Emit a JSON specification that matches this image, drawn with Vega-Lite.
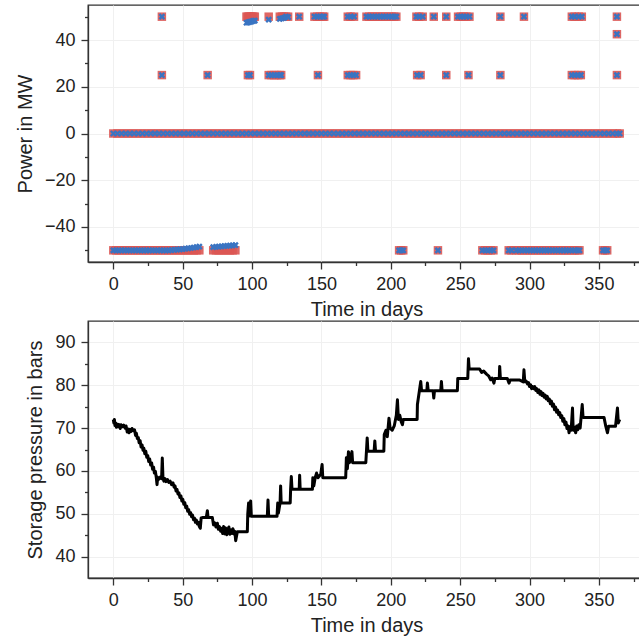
{
  "$schema": "https://vega.github.io/schema/vega-lite/v6.json",
  "padding": {"left": 14, "top": 4, "right": 0, "bottom": 0},
  "background": "white",
  "config": {
    "font": "Liberation Sans",
    "view": {"stroke": "#333333", "strokeWidth": 1.3},
    "axis": {
      "domainColor": "#333333", "domainWidth": 1.3,
      "tickColor": "#333333", "tickWidth": 1.3, "tickSize": 7,
      "labelFont": "Liberation Sans", "labelFontSize": 18, "labelColor": "#222222", "labelPadding": 6,
      "titleFont": "Liberation Sans", "titleFontSize": 20, "titleFontWeight": "normal", "titleColor": "#222222",
      "gridColor": "#f0f0f0", "gridWidth": 1, "labelFlush": false
    }
  },
  "datasets": {
    "power": [
      {"t":0,"a":0,"b":0},{"t":3,"a":0,"b":0},{"t":6,"a":0,"b":0},{"t":9,"a":0,"b":0},{"t":12,"a":0,"b":0},{"t":15,"a":0,"b":0},{"t":18,"a":0,"b":0},{"t":21,"a":0,"b":0},{"t":24,"a":0,"b":0},{"t":27,"a":0,"b":0},{"t":30,"a":0,"b":0},{"t":33,"a":0,"b":0},{"t":36,"a":0,"b":0},{"t":39,"a":0,"b":0},{"t":42,"a":0,"b":0},{"t":45,"a":0,"b":0},{"t":48,"a":0,"b":0},{"t":51,"a":0,"b":0},{"t":54,"a":0,"b":0},{"t":57,"a":0,"b":0},{"t":60,"a":0,"b":0},{"t":63,"a":0,"b":0},{"t":66,"a":0,"b":0},{"t":69,"a":0,"b":0},{"t":72,"a":0,"b":0},{"t":75,"a":0,"b":0},{"t":78,"a":0,"b":0},{"t":81,"a":0,"b":0},{"t":84,"a":0,"b":0},{"t":87,"a":0,"b":0},{"t":90,"a":0,"b":0},{"t":93,"a":0,"b":0},{"t":96,"a":0,"b":0},{"t":99,"a":0,"b":0},{"t":102,"a":0,"b":0},{"t":105,"a":0,"b":0},{"t":108,"a":0,"b":0},{"t":111,"a":0,"b":0},{"t":114,"a":0,"b":0},{"t":117,"a":0,"b":0},{"t":120,"a":0,"b":0},{"t":123,"a":0,"b":0},{"t":126,"a":0,"b":0},{"t":129,"a":0,"b":0},{"t":132,"a":0,"b":0},{"t":135,"a":0,"b":0},{"t":138,"a":0,"b":0},{"t":141,"a":0,"b":0},{"t":144,"a":0,"b":0},{"t":147,"a":0,"b":0},{"t":150,"a":0,"b":0},{"t":153,"a":0,"b":0},{"t":156,"a":0,"b":0},{"t":159,"a":0,"b":0},{"t":162,"a":0,"b":0},{"t":165,"a":0,"b":0},{"t":168,"a":0,"b":0},{"t":171,"a":0,"b":0},{"t":174,"a":0,"b":0},{"t":177,"a":0,"b":0},{"t":180,"a":0,"b":0},{"t":183,"a":0,"b":0},{"t":186,"a":0,"b":0},{"t":189,"a":0,"b":0},{"t":192,"a":0,"b":0},{"t":195,"a":0,"b":0},{"t":198,"a":0,"b":0},{"t":201,"a":0,"b":0},{"t":204,"a":0,"b":0},{"t":207,"a":0,"b":0},{"t":210,"a":0,"b":0},{"t":213,"a":0,"b":0},{"t":216,"a":0,"b":0},{"t":219,"a":0,"b":0},{"t":222,"a":0,"b":0},{"t":225,"a":0,"b":0},{"t":228,"a":0,"b":0},{"t":231,"a":0,"b":0},{"t":234,"a":0,"b":0},{"t":237,"a":0,"b":0},{"t":240,"a":0,"b":0},{"t":243,"a":0,"b":0},{"t":246,"a":0,"b":0},{"t":249,"a":0,"b":0},{"t":252,"a":0,"b":0},{"t":255,"a":0,"b":0},{"t":258,"a":0,"b":0},{"t":261,"a":0,"b":0},{"t":264,"a":0,"b":0},{"t":267,"a":0,"b":0},{"t":270,"a":0,"b":0},{"t":273,"a":0,"b":0},{"t":276,"a":0,"b":0},{"t":279,"a":0,"b":0},{"t":282,"a":0,"b":0},{"t":285,"a":0,"b":0},{"t":288,"a":0,"b":0},{"t":291,"a":0,"b":0},{"t":294,"a":0,"b":0},{"t":297,"a":0,"b":0},{"t":300,"a":0,"b":0},{"t":303,"a":0,"b":0},{"t":306,"a":0,"b":0},{"t":309,"a":0,"b":0},{"t":312,"a":0,"b":0},{"t":315,"a":0,"b":0},{"t":318,"a":0,"b":0},{"t":321,"a":0,"b":0},{"t":324,"a":0,"b":0},{"t":327,"a":0,"b":0},{"t":330,"a":0,"b":0},{"t":333,"a":0,"b":0},{"t":336,"a":0,"b":0},{"t":339,"a":0,"b":0},{"t":342,"a":0,"b":0},{"t":345,"a":0,"b":0},{"t":348,"a":0,"b":0},{"t":351,"a":0,"b":0},{"t":354,"a":0,"b":0},{"t":357,"a":0,"b":0},{"t":360,"a":0,"b":0},{"t":363,"a":0,"b":0},{"t":365,"a":0,"b":0},
      {"t":35,"a":50,"b":50},{"t":96,"a":50,"b":47.4},{"t":97,"a":50,"b":47.6},{"t":98,"a":50,"b":47.7},{"t":99,"a":50,"b":47.9},{"t":100,"a":50,"b":48},{"t":101,"a":50,"b":48.2},{"t":102,"a":50,"b":48.3},
      {"t":112,"a":50,"b":48.7},{"t":120,"a":50,"b":49.1},{"t":121.5,"a":50,"b":49.3},{"t":123,"a":50,"b":49.5},{"t":124.5,"a":50,"b":50},{"t":126,"a":50,"b":49.8},{"t":134,"a":50,"b":50},
      {"t":145,"a":50,"b":50},{"t":147,"a":50,"b":50},{"t":149,"a":50,"b":50},{"t":151,"a":50,"b":50},{"t":152,"a":50,"b":50},
      {"t":169,"a":50,"b":50},{"t":171,"a":50,"b":50},{"t":173.5,"a":50,"b":50},
      {"t":182.5,"a":50,"b":50},{"t":184.5,"a":50,"b":50},{"t":186.5,"a":50,"b":50},{"t":188.5,"a":50,"b":50},{"t":190.5,"a":50,"b":50},{"t":192.5,"a":50,"b":50},{"t":194.5,"a":50,"b":50},{"t":196.5,"a":50,"b":50},{"t":198.5,"a":50,"b":50},{"t":200.5,"a":50,"b":50},{"t":202.5,"a":50,"b":50},{"t":204,"a":50,"b":50},
      {"t":218.5,"a":50,"b":50},{"t":220.5,"a":50,"b":50},{"t":223,"a":50,"b":50},{"t":231,"a":50,"b":50},{"t":240,"a":50,"b":50},
      {"t":248.5,"a":50,"b":50},{"t":250.5,"a":50,"b":50},{"t":252.5,"a":50,"b":50},{"t":254.5,"a":50,"b":50},{"t":256.7,"a":50,"b":50},
      {"t":279,"a":50,"b":50},{"t":296,"a":50,"b":50},{"t":330.5,"a":50,"b":50},{"t":332.5,"a":50,"b":50},{"t":335.5,"a":50,"b":50},{"t":337.7,"a":50,"b":50},{"t":363,"a":50,"b":50},
      {"t":363,"a":42.5,"b":42.5},
      {"t":35,"a":25,"b":25},{"t":68,"a":25,"b":25},{"t":97,"a":25,"b":25},{"t":98.5,"a":25,"b":25},{"t":112,"a":25,"b":25},{"t":114,"a":25,"b":25},{"t":116,"a":25,"b":25},{"t":118,"a":25,"b":25},{"t":120,"a":25,"b":25},{"t":121,"a":25,"b":25},
      {"t":147.5,"a":25,"b":25},{"t":169,"a":25,"b":25},{"t":171,"a":25,"b":25},{"t":173,"a":25,"b":25},{"t":175,"a":25,"b":25},{"t":219,"a":25,"b":25},{"t":221.5,"a":25,"b":25},{"t":240,"a":25,"b":25},{"t":256,"a":25,"b":25},{"t":279,"a":25,"b":25},
      {"t":330.5,"a":25,"b":25},{"t":332.5,"a":25,"b":25},{"t":335,"a":25,"b":25},{"t":337,"a":25,"b":25},{"t":363,"a":25,"b":25},
      {"t":0,"a":-50,"b":-50},{"t":2,"a":-50,"b":-50},{"t":4,"a":-50,"b":-50},{"t":6,"a":-50,"b":-50},{"t":8,"a":-50,"b":-50},{"t":10,"a":-50,"b":-50},{"t":12,"a":-50,"b":-50},{"t":14,"a":-50,"b":-50},{"t":16,"a":-50,"b":-50},{"t":18,"a":-50,"b":-50},{"t":20,"a":-50,"b":-50},{"t":22,"a":-50,"b":-50},{"t":24,"a":-50,"b":-50},{"t":26,"a":-50,"b":-50},{"t":28,"a":-50,"b":-50},{"t":30,"a":-50,"b":-50},{"t":32,"a":-50,"b":-50},{"t":34,"a":-50,"b":-50},{"t":36,"a":-50,"b":-50},{"t":38,"a":-50,"b":-50},{"t":40,"a":-50,"b":-50},
      {"t":42,"a":-50,"b":-49.9},{"t":44,"a":-50,"b":-49.8},{"t":46,"a":-50,"b":-49.7},{"t":48,"a":-50,"b":-49.6},{"t":50,"a":-50,"b":-49.5},{"t":52,"a":-50,"b":-49.3},{"t":54,"a":-50,"b":-49.2},{"t":56,"a":-50,"b":-49},{"t":58,"a":-50,"b":-48.8},{"t":60,"a":-50,"b":-48.6},{"t":62,"a":-50,"b":-48.4},
      {"t":72,"a":-50,"b":-48.6},{"t":74,"a":-50,"b":-48.5},{"t":76,"a":-50,"b":-48.4},{"t":78,"a":-50,"b":-48.3},{"t":80,"a":-50,"b":-48.2},{"t":82,"a":-50,"b":-48.1},{"t":84,"a":-50,"b":-48},{"t":86,"a":-50,"b":-47.9},{"t":88,"a":-50,"b":-47.8},
      {"t":206,"a":-50,"b":-50},{"t":207.5,"a":-50,"b":-50},{"t":209,"a":-50,"b":-50},{"t":234,"a":-50,"b":-50},
      {"t":266,"a":-50,"b":-50},{"t":268,"a":-50,"b":-50},{"t":270,"a":-50,"b":-50},{"t":272,"a":-50,"b":-50},{"t":274,"a":-50,"b":-50},{"t":285,"a":-50,"b":-50},{"t":287,"a":-50,"b":-50},
      {"t":290.5,"a":-50,"b":-50},{"t":292.5,"a":-50,"b":-50},{"t":294.5,"a":-50,"b":-50},{"t":296.5,"a":-50,"b":-50},{"t":298.5,"a":-50,"b":-50},{"t":300.5,"a":-50,"b":-50},{"t":302.5,"a":-50,"b":-50},{"t":304.5,"a":-50,"b":-50},{"t":306.5,"a":-50,"b":-50},{"t":308.5,"a":-50,"b":-50},{"t":310.5,"a":-50,"b":-50},{"t":312.5,"a":-50,"b":-50},{"t":314.5,"a":-50,"b":-50},{"t":316.5,"a":-50,"b":-50},{"t":318.5,"a":-50,"b":-50},{"t":320.5,"a":-50,"b":-50},{"t":322.5,"a":-50,"b":-50},{"t":324.5,"a":-50,"b":-50},{"t":326.5,"a":-50,"b":-50},{"t":328.5,"a":-50,"b":-50},{"t":330.5,"a":-50,"b":-50},{"t":332.5,"a":-50,"b":-50},{"t":334.5,"a":-50,"b":-50},{"t":336,"a":-50,"b":-50},
      {"t":353,"a":-50,"b":-50},{"t":354.5,"a":-50,"b":-50},{"t":356,"a":-50,"b":-50}
    ],
    "pressure": [
      {"t":0,"p":72},{"t":0.4,"p":71.2},{"t":0.8,"p":72},{"t":1.2,"p":70.6},{"t":1.7,"p":71.2},{"t":2.2,"p":70.2},{"t":3,"p":70.9},{"t":3.6,"p":70.3},{"t":4.2,"p":70.8},{"t":5,"p":69.9},{"t":5.6,"p":70.8},{"t":6.5,"p":70.3},{"t":7.5,"p":70.7},{"t":8.5,"p":70},{"t":9.2,"p":70.5},{"t":10,"p":69.1},{"t":10.6,"p":69.8},{"t":11.3,"p":68.9},{"t":12,"p":69.7},{"t":12.8,"p":69.2},{"t":13.5,"p":69.9},{"t":14.5,"p":69.4},{"t":15.3,"p":69.6},{"t":16,"p":68.3},{"t":16.6,"p":68.8},{"t":17.3,"p":67.6},
      {"t":18,"p":67.8},{"t":18.6,"p":66.6},{"t":19.3,"p":67.1},{"t":20,"p":65.6},{"t":20.7,"p":66.1},{"t":21.4,"p":64.8},{"t":22,"p":65.3},{"t":22.7,"p":64},{"t":23.4,"p":64.6},{"t":24.1,"p":63.2},{"t":24.8,"p":63.6},{"t":25.5,"p":62.2},{"t":26.2,"p":62.8},{"t":26.9,"p":61.4},{"t":27.6,"p":61.9},{"t":28.3,"p":60.4},{"t":29,"p":60.9},{"t":29.6,"p":59.5},{"t":30.3,"p":59.9},{"t":31,"p":58.4},{"t":31.5,"p":56.8},{"t":32,"p":58.5},{"t":33,"p":58.1},{"t":34,"p":58.6},{"t":34.8,"p":58.2},{"t":35.3,"p":63},{"t":35.8,"p":58.3},{"t":36.5,"p":57.6},{"t":37.2,"p":58.2},{"t":38,"p":57.5},{"t":39,"p":58},{"t":40,"p":57.3},{"t":41,"p":57.6},{"t":42,"p":56.8},{"t":43,"p":57.2},{"t":43.8,"p":56.2},{"t":44.5,"p":56.5},{"t":45.2,"p":55.3},{"t":45.9,"p":55.7},{"t":46.6,"p":54.6},{"t":47.3,"p":54.9},{"t":48,"p":53.8},{"t":48.7,"p":54.2},{"t":49.4,"p":53},{"t":50.1,"p":53.4},{"t":50.8,"p":52.2},{"t":51.5,"p":52.6},{"t":52.2,"p":51.4},{"t":52.9,"p":51.8},{"t":53.6,"p":50.6},{"t":54.3,"p":51},{"t":55,"p":49.9},{"t":55.7,"p":50.3},{"t":56.4,"p":49.3},{"t":57.1,"p":49.7},{"t":57.8,"p":48.6},{"t":58.5,"p":49},{"t":59.2,"p":48},{"t":59.9,"p":48.5},{"t":60.6,"p":47.6},{"t":61.3,"p":48},{"t":62,"p":47},{"t":62.7,"p":46.6},{"t":63.3,"p":49},{"t":64.2,"p":49.1},{"t":67,"p":49.1},{"t":67.8,"p":50.7},{"t":68.3,"p":49.1},{"t":71.4,"p":49.1},{"t":72.2,"p":47.4},{"t":73,"p":47.9},{"t":74,"p":46.9},{"t":75,"p":47.8},{"t":75.7,"p":46.4},{"t":76.5,"p":47},{"t":77.4,"p":45.9},{"t":78.2,"p":46.6},{"t":78.8,"p":45.4},{"t":79.5,"p":47},{"t":80.2,"p":45.3},{"t":81,"p":46.7},{"t":81.8,"p":45.1},{"t":82.6,"p":46.3},{"t":83.3,"p":46.9},{"t":84,"p":45.2},{"t":84.8,"p":46.2},{"t":85.5,"p":45.4},{"t":86.2,"p":46.5},{"t":87,"p":45.3},{"t":87.6,"p":45.9},{"t":88.2,"p":43.7},{"t":89.4,"p":45.8},{"t":96.6,"p":45.8},{"t":96.9,"p":49.9},{"t":97.5,"p":52.5},{"t":98,"p":49.5},{"t":99,"p":53},{"t":99.5,"p":49.4},{"t":101,"p":49.4},{"t":111,"p":49.4},{"t":111.5,"p":53.2},{"t":112,"p":49.4},{"t":118,"p":49.4},{"t":118.5,"p":52.5},{"t":119,"p":50.2},{"t":120.2,"p":52.5},{"t":120.6,"p":56.5},{"t":121,"p":52.5},{"t":127.5,"p":52.5},{"t":127.8,"p":55.7},{"t":128.3,"p":58.7},{"t":128.8,"p":55.7},{"t":134,"p":55.7},{"t":134.3,"p":59},{"t":134.7,"p":55.7},{"t":143.5,"p":55.7},{"t":143.8,"p":58.4},{"t":144.5,"p":56.5},{"t":145.5,"p":58.4},{"t":146.5,"p":59.5},{"t":147.5,"p":58.4},{"t":149.5,"p":59.2},{"t":150.5,"p":61.5},{"t":151,"p":58.4},{"t":167.5,"p":58.4},{"t":168,"p":63.1},{"t":168.7,"p":60.5},{"t":169.5,"p":64.5},{"t":170.2,"p":61.9},{"t":172,"p":64.5},{"t":172.5,"p":61.9},{"t":182,"p":61.9},{"t":183,"p":67.7},{"t":183.5,"p":64.6},{"t":188,"p":64.6},{"t":188.5,"p":67},{"t":189,"p":64.6},{"t":195,"p":64.6},{"t":195.3,"p":68.5},{"t":196.5,"p":69.5},{"t":197.5,"p":68},{"t":198.7,"p":72.3},{"t":199.5,"p":70},{"t":201,"p":69.5},{"t":202.5,"p":70.5},{"t":204,"p":73},{"t":204.8,"p":76.6},{"t":205.5,"p":72},{"t":206.5,"p":73},{"t":207.5,"p":71.5},{"t":208.4,"p":70.8},{"t":209,"p":72},{"t":219,"p":72},{"t":219.2,"p":75.5},{"t":221.6,"p":80.9},{"t":222.2,"p":78.7},{"t":226,"p":78.7},{"t":226.4,"p":80.5},{"t":227,"p":78.7},{"t":230.5,"p":78.7},{"t":231,"p":77},{"t":231.5,"p":78.7},{"t":236,"p":78.7},{"t":236.5,"p":80.9},{"t":237,"p":78.7},{"t":248,"p":78.7},{"t":248.3,"p":81.6},{"t":255.5,"p":81.6},{"t":256,"p":86.2},{"t":256.5,"p":83.8},{"t":264,"p":83.8},{"t":265.5,"p":83},{"t":267,"p":83.3},{"t":269,"p":82.6},{"t":270.5,"p":82.2},{"t":272,"p":81.3},{"t":273,"p":81.7},{"t":274.4,"p":80.5},{"t":275,"p":81.6},{"t":278.2,"p":81.6},{"t":278.5,"p":84.4},{"t":279,"p":81.6},{"t":284,"p":81.6},{"t":285.2,"p":80.5},{"t":286,"p":81.2},{"t":293,"p":81.2},{"t":295.5,"p":80.8},{"t":296,"p":83.6},{"t":296.6,"p":80.8},{"t":297.5,"p":81},{"t":298.5,"p":80.3},{"t":299.3,"p":80.6},{"t":300,"p":79.7},{"t":300.8,"p":80.1},{"t":301.5,"p":79.2},{"t":302.3,"p":79.7},{"t":303,"p":79.2},{"t":303.8,"p":79.7},{"t":304.5,"p":78.8},{"t":305.3,"p":79.2},{"t":306,"p":78.3},{"t":306.8,"p":78.9},{"t":307.5,"p":77.9},{"t":308.3,"p":78.5},{"t":309,"p":77.6},{"t":309.8,"p":78.1},{"t":310.5,"p":77.2},{"t":311.3,"p":77.7},{"t":312,"p":76.8},{"t":312.8,"p":77.4},{"t":313.5,"p":76.4},{"t":314.3,"p":76.8},{"t":315,"p":75.7},{"t":315.8,"p":76.3},{"t":316.5,"p":75.1},{"t":317.3,"p":75.6},{"t":318,"p":74.3},{"t":318.8,"p":74.9},{"t":319.5,"p":73.7},{"t":320.3,"p":74.2},{"t":321,"p":73.1},{"t":321.8,"p":73.6},{"t":322.5,"p":72.5},{"t":323.3,"p":72.9},{"t":324,"p":71.6},{"t":324.8,"p":72.2},{"t":325.5,"p":70.8},{"t":326.3,"p":71.4},{"t":327,"p":69.9},{"t":327.8,"p":70.5},{"t":328.5,"p":68.9},{"t":329.2,"p":70.3},{"t":330,"p":69.5},{"t":331,"p":74.7},{"t":331.5,"p":69.5},{"t":332.3,"p":70.2},{"t":333.3,"p":68.9},{"t":334,"p":70.5},{"t":334.8,"p":69.6},{"t":335.6,"p":70.8},{"t":336.5,"p":70},{"t":338,"p":75.5},{"t":338.6,"p":72.5},{"t":353.7,"p":72.5},{"t":355,"p":70.4},{"t":356.2,"p":68.9},{"t":357,"p":70.4},{"t":362,"p":70.4},{"t":363.4,"p":74.7},{"t":364,"p":71.2},{"t":365,"p":72}
    ]
  },
  "vconcat": [
    {
      "width": 557,
      "height": 257,
      "data": {"name": "power"},
      "layer": [
        {
          "mark": {"type": "point", "shape": "square", "filled": true, "size": 72, "color": "#dc5653", "opacity": 0.9},
          "encoding": {
            "x": {"field": "t", "type": "quantitative", "scale": {"domain": [-18.25, 383.25], "nice": false, "zero": false},
                  "axis": {"values": [0, 50, 100, 150, 200, 250, 300, 350], "title": "Time in days", "titlePadding": 6}},
            "y": {"field": "a", "type": "quantitative", "scale": {"domain": [-55, 55], "nice": false, "zero": false},
                  "axis": {"values": [-40, -20, 0, 20, 40], "title": "Power in MW", "titlePadding": 9}}
          }
        },
        {
          "mark": {"type": "point", "shape": "M-1,-1L1,1M-1,1L1,-1", "filled": false, "size": 25, "stroke": "#3a74c2", "strokeWidth": 2.4, "opacity": 1},
          "encoding": {
            "x": {"field": "t", "type": "quantitative",
                  "axis": {"orient": "bottom", "values": [25, 75, 125, 175, 225, 275, 325, 375], "labels": false, "domain": false, "grid": false, "tickSize": 3.5, "title": null}},
            "y": {"field": "b", "type": "quantitative",
                  "axis": {"orient": "left", "values": [-50, -30, -10, 10, 30, 50], "labels": false, "domain": false, "grid": false, "tickSize": 3.5, "title": null}}
          }
        }
      ],
      "resolve": {"axis": {"x": "independent", "y": "independent"}}
    },
    {
      "width": 557,
      "height": 257,
      "data": {"name": "pressure"},
      "layer": [
        {
          "mark": {"type": "line", "color": "black", "strokeWidth": 3, "strokeJoin": "round"},
          "encoding": {
            "x": {"field": "t", "type": "quantitative", "scale": {"domain": [-18.25, 383.25], "nice": false, "zero": false},
                  "axis": {"values": [0, 50, 100, 150, 200, 250, 300, 350], "title": "Time in days", "titlePadding": 6}},
            "y": {"field": "p", "type": "quantitative", "scale": {"domain": [35, 95], "nice": false, "zero": false},
                  "axis": {"values": [40, 50, 60, 70, 80, 90], "title": "Storage pressure in bars", "titlePadding": 9}}
          }
        },
        {
          "mark": {"type": "point", "opacity": 0},
          "encoding": {
            "x": {"field": "t", "type": "quantitative",
                  "axis": {"orient": "bottom", "values": [25, 75, 125, 175, 225, 275, 325, 375], "labels": false, "domain": false, "grid": false, "tickSize": 3.5, "title": null}},
            "y": {"field": "p", "type": "quantitative",
                  "axis": {"orient": "left", "values": [45, 55, 65, 75, 85], "labels": false, "domain": false, "grid": false, "tickSize": 3.5, "title": null}}
          }
        }
      ],
      "resolve": {"axis": {"x": "independent", "y": "independent"}}
    }
  ],
  "spacing": 59,
  "bounds": "flush"
}
